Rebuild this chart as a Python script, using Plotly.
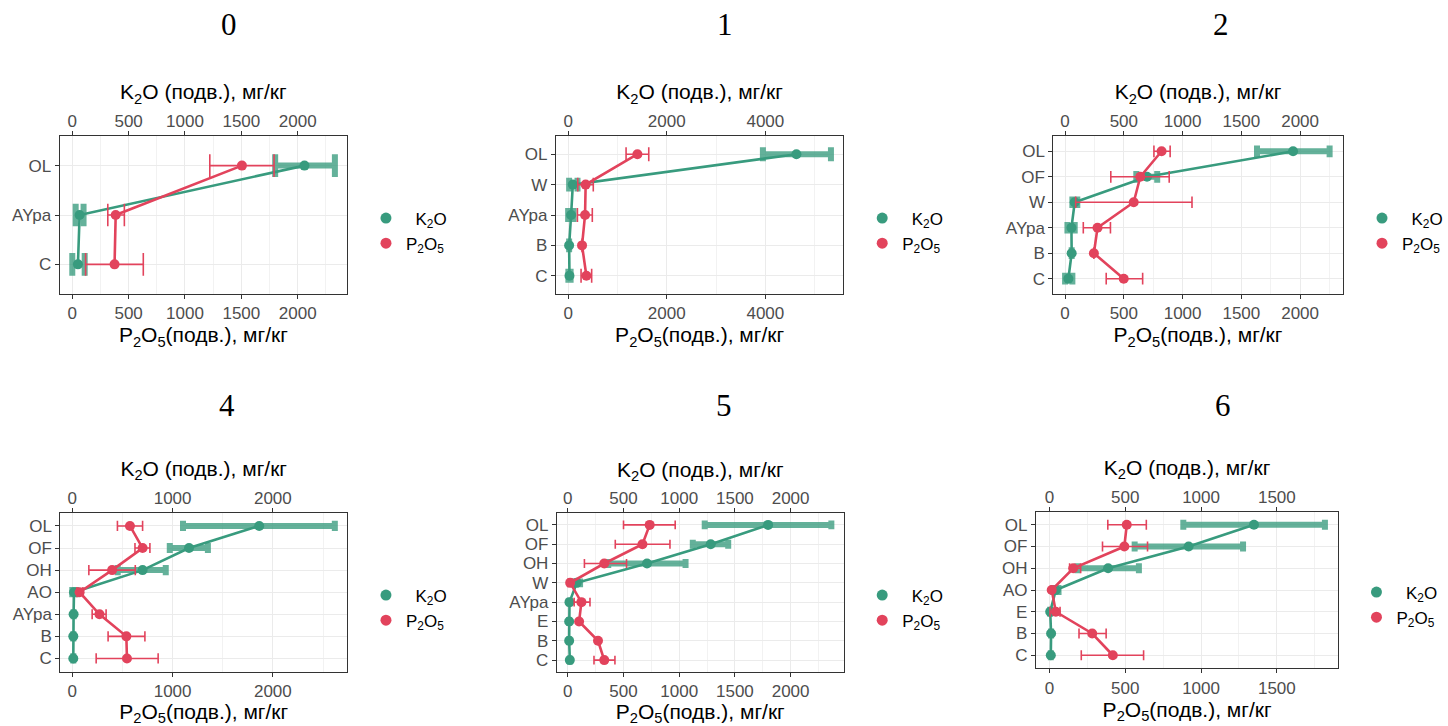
import plotly.graph_objects as go

W, H = 1448, 726

titles = ["0", "1", "2", "4", "5", "6"]

horizons = [
    ["OL", "AYpa", "C"],
    ["OL", "W", "AYpa", "B", "C"],
    ["OL", "OF", "W", "AYpa", "B", "C"],
    ["OL", "OF", "OH", "AO", "AYpa", "B", "C"],
    ["OL", "OF", "OH", "W", "AYpa", "E", "B", "C"],
    ["OL", "OF", "OH", "AO", "E", "B", "C"],
]

k2o = [
    [2060, 65, 50],
    [4630, 95, 60, 20, 27],
    [1940, 697, 82, 54, 56, 28],
    [1864, 1164, 701, 17, 13, 10, 10],
    [1798, 1283, 711, 80, 15, 12, 12, 18],
    [1349, 918, 387, 42, 5, 11, 9],
]
k2o_lo = [
    [1800, 30, 0],
    [3950, 20, 0, None, 5],
    [1633, 606, 62, 20, None, 0],
    [1104, 972, 453, 0, None, None, None],
    [1229, 1122, 363, 50, None, None, None, None],
    [883, 562, 184, 25, None, None, None],
]
k2o_hi = [
    [2330, 100, 110],
    [5330, 190, 110, None, 50],
    [2251, 784, 104, 82, None, 62],
    [2618, 1352, 932, 40, None, None, None],
    [2366, 1440, 1057, 110, None, None, None, None],
    [1817, 1277, 590, 60, None, None, None],
]

p2o5 = [
    [1505, 385, 375],
    [1405, 355, 343, 282, 370],
    [821, 640, 584, 276, 245, 499],
    [575, 701, 397, 73, 271, 539, 545],
    [735, 670, 327, 21, 122, 101, 271, 327],
    [510, 494, 157, 15, 42, 282, 418],
]
p2o5_lo = [
    [1220, 315, 118],
    [1175, 195, 188, None, 262],
    [756, 389, 90, 155, None, 350],
    [450, 625, 165, 46, 198, 357, 238],
    [500, 426, 149, 0, 57, None, None, 235],
    [385, 350, 133, None, 4, 195, 210],
]
p2o5_hi = [
    [1790, 462, 630],
    [1635, 510, 490, None, 477],
    [894, 886, 1080, 386, None, 660],
    [701, 774, 628, 106, 337, 724, 856],
    [964, 917, 527, 45, 199, None, None, 423],
    [639, 647, 206, None, 70, 374, 621],
]

x_ranges = [[-112, 2438], [-248, 5581], [-99, 2361], [-119, 2740], [-98, 2476], [-89, 1905]]
dticks = [500, 2000, 500, 1000, 500, 500]

# pixel layout of plot areas
x_px = [(60, 349), (559, 848), (1059.3, 1350), (60.7, 349), (560, 848.3), (1041.7, 1345.7)]
y_px = [(136, 294), (136, 294), (136, 294), (512.7, 671.7), (513.3, 671.7), (511.7, 668.3)]
title_px = [(230, 24), (729, 24), (1228, 24), (228, 405), (728, 405), (1230, 405)]
legend_px = [(388, 231), (887, 231), (1390, 231), (388, 608), (887, 608), (1384, 605)]

GREEN = "#389B7E"
GREEN_ERR = "rgba(56,155,126,0.78)"
RED = "#E2435C"

K_NAME = "  K<sub>2</sub>O"
P_NAME = "P<sub>2</sub>O<sub>5</sub>"
TOP_TITLE = "K<sub>2</sub>O (подв.), мг/кг"
BOT_TITLE = "P<sub>2</sub>O<sub>5</sub>(подв.), мг/кг"

FONT = "Arial, Liberation Sans, sans-serif"

fig = go.Figure()
layout = dict(
    width=W, height=H, margin=dict(l=0, r=0, t=0, b=0),
    paper_bgcolor="white", plot_bgcolor="white",
    showlegend=True, annotations=[],
)


def diff(vals, bounds, sign):
    out = []
    for v, b in zip(vals, bounds):
        out.append(None if b is None else sign * (b - v))
    return out


for i in range(6):
    xm = 2 * i + 1   # main axis (top, K2O)
    xo = 2 * i + 2   # overlaying axis (bottom, P2O5)
    yi = i + 1
    xmref = "x" if xm == 1 else f"x{xm}"
    xoref = f"x{xo}"
    yref = "y" if yi == 1 else f"y{yi}"
    lg = "legend" if i == 0 else f"legend{i + 1}"
    n = len(horizons[i])
    x0, x1 = x_px[i]
    y0, y1 = y_px[i]
    step = (y1 - y0) / (n + 0.2)
    capw = max(3, step * 0.23)

    fig.add_trace(go.Scatter(
        x=k2o[i], y=horizons[i], xaxis=xmref, yaxis=yref, mode="lines+markers",
        line=dict(color=GREEN, width=2.6), marker=dict(color=GREEN, size=10),
        error_x=dict(type="data", symmetric=False,
                     array=diff(k2o[i], k2o_hi[i], 1),
                     arrayminus=diff(k2o[i], k2o_lo[i], -1),
                     color=GREEN_ERR, thickness=6, width=capw),
        showlegend=False, hoverinfo="x+y"))
    fig.add_trace(go.Scatter(
        x=p2o5[i], y=horizons[i], xaxis=xoref, yaxis=yref, mode="lines+markers",
        line=dict(color=RED, width=2.6), marker=dict(color=RED, size=10),
        error_x=dict(type="data", symmetric=False,
                     array=diff(p2o5[i], p2o5_hi[i], 1),
                     arrayminus=diff(p2o5[i], p2o5_lo[i], -1),
                     color=RED, thickness=1.6, width=capw),
        showlegend=False, hoverinfo="x+y"))
    # legend entries (dots only)
    fig.add_trace(go.Scatter(x=[None], y=[None], xaxis=xmref, yaxis=yref, mode="markers",
                             marker=dict(color=GREEN, size=11), name=K_NAME, legend=lg))
    fig.add_trace(go.Scatter(x=[None], y=[None], xaxis=xmref, yaxis=yref, mode="markers",
                             marker=dict(color=RED, size=11), name=P_NAME, legend=lg))

    dom_x = [x0 / W, x1 / W]
    dom_y = [1 - y1 / H, 1 - y0 / H]
    common = dict(
        range=x_ranges[i], dtick=dticks[i], tick0=0, zeroline=False,
        ticks="outside", ticklen=4, tickwidth=1.2, tickcolor="#333333",
        tickfont=dict(family=FONT, size=17, color="#4D4D4D"),
        automargin=False, fixedrange=True,
    )
    layout["xaxis" if xm == 1 else f"xaxis{xm}"] = dict(
        common, domain=dom_x, anchor=yref, side="top", ticklabelstandoff=-3,
        showgrid=True, gridcolor="#EBEBEB", gridwidth=1.2,
        minor=dict(dtick=dticks[i] / 2, tick0=0, showgrid=True, gridcolor="#F2F2F2",
                   gridwidth=0.7, ticks=""),
        showline=True, linecolor="#333333", linewidth=1.2, mirror=True,
        title=dict(text=TOP_TITLE, font=dict(family=FONT, size=21, color="black"), standoff=6),
    )
    layout[f"xaxis{xo}"] = dict(
        common, domain=dom_x, anchor=yref, side="bottom", overlaying=xmref, matches=xmref,
        showgrid=False, showline=False,
        title=dict(text=BOT_TITLE, font=dict(family=FONT, size=21, color="black"), standoff=3),
    )
    layout["yaxis" if yi == 1 else f"yaxis{yi}"] = dict(
        domain=dom_y, anchor=xmref, type="category", categoryorder="array",
        categoryarray=horizons[i], range=[n - 0.4, -0.6],
        tickmode="array", tickvals=horizons[i], ticktext=horizons[i],
        showgrid=True, gridcolor="#EBEBEB", gridwidth=1.2, zeroline=False,
        showline=True, linecolor="#333333", linewidth=1.2, mirror=True,
        ticks="outside", ticklen=4, tickwidth=1.2, tickcolor="#333333",
        tickfont=dict(family=FONT, size=17, color="#4D4D4D"),
        automargin=False, fixedrange=True,
    )
    lx, ly = legend_px[i]
    layout[lg] = dict(
        x=(lx - 20) / W, y=1 - ly / H, xanchor="left", yanchor="middle",
        font=dict(family=FONT, size=17, color="black"),
        bgcolor="rgba(0,0,0,0)", borderwidth=0, itemwidth=30,
        tracegroupgap=0,
    )
    tx, ty = title_px[i]
    layout["annotations"].append(dict(
        text=titles[i], x=tx / W, y=1 - ty / H, xref="paper", yref="paper",
        showarrow=False, xanchor="center", yanchor="middle",
        font=dict(family="Liberation Serif, Times New Roman, serif", size=31, color="black"),
    ))

fig.update_layout(**layout)
fig.write_html("out.html")
